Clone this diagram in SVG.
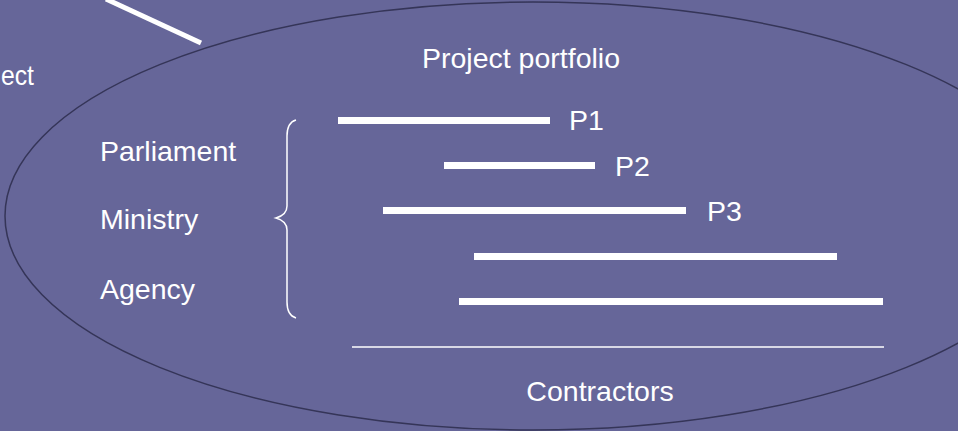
<svg xmlns="http://www.w3.org/2000/svg" width="958" height="431" viewBox="0 0 958 431">
<style>
text{font-family:"Liberation Sans",Arial,sans-serif;font-size:28.5px;fill:#ffffff}
.bar{fill:#ffffff}
</style>
<rect width="958" height="431" fill="#666699"/>
<g id="portfolio-ellipse">
<ellipse cx="533" cy="216" rx="528" ry="214" fill="none" stroke="#353558" stroke-width="1.5"/>
</g>
<g id="connectors">
<line x1="106" y1="-1" x2="201" y2="43" stroke="#ffffff" stroke-width="5"/>
</g>
<g id="project-label"><text x="1" y="85" textLength="33" lengthAdjust="spacingAndGlyphs">ect</text></g>
<g id="title"><text x="521" y="68" text-anchor="middle">Project portfolio</text></g>
<g id="levels">
<text x="100" y="161">Parliament</text>
<text x="100" y="229">Ministry</text>
<text x="100" y="299">Agency</text>
</g>
<g id="brace">
<path d="M296,120 C289,122 287,128 287,136 L287,206 C287,212 283,216 276,218 C283,220 287,224 287,230 L287,302 C287,310 289,316 296,318" fill="none" stroke="#ffffff" stroke-width="1.5"/>
</g>
<g id="p1"><rect class="bar" x="338" y="117" width="212" height="7"/><text x="569" y="130">P1</text></g>
<g id="p2"><rect class="bar" x="444" y="162" width="151" height="7"/><text x="615" y="176">P2</text></g>
<g id="p3"><rect class="bar" x="383" y="207" width="303" height="7"/><text x="707" y="221">P3</text></g>
<g id="p4"><rect class="bar" x="474" y="253" width="363" height="7"/></g>
<g id="p5"><rect class="bar" x="459" y="298" width="424" height="7"/></g>
<g id="contractors">
<line x1="352" y1="347" x2="884" y2="347" stroke="#ffffff" stroke-width="1.5"/>
<text x="600" y="401" text-anchor="middle">Contractors</text>
</g>
</svg>
